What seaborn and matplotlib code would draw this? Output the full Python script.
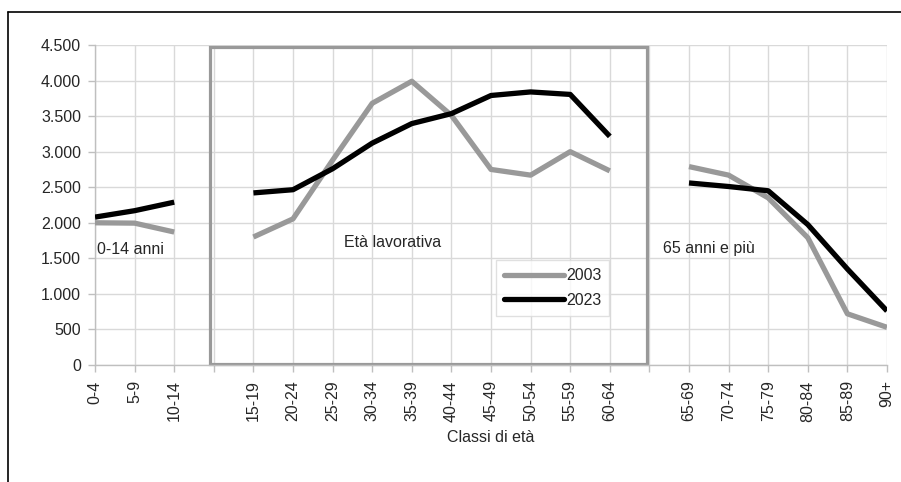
import numpy as np
import pandas as pd
import matplotlib
matplotlib.use("Agg")
import matplotlib.pyplot as plt
import matplotlib.ticker as mticker
from matplotlib.patches import Rectangle
from matplotlib.lines import Line2D
import seaborn as sns

# classi di eta' ("" = spazio vuoto tra i gruppi)
classi = ["0-4", "5-9", "10-14", "",
          "15-19", "20-24", "25-29", "30-34", "35-39",
          "40-44", "45-49", "50-54", "55-59", "60-64", "",
          "65-69", "70-74", "75-79", "80-84", "85-89", "90+"]
gruppi = ["0-14 anni"] * 3 + [None] + ["Età lavorativa"] * 10 + [None] + ["65 anni e più"] * 6

valori_2003 = [2000, 1995, 1870, None,
               1800, 2055, 2880, 3680, 3990, 3510, 2750, 2670, 3000, 2730, None,
               2790, 2670, 2350, 1790, 720, 530]
valori_2023 = [2080, 2170, 2290, None,
               2420, 2465, 2760, 3120, 3395, 3535, 3790, 3840, 3805, 3215, None,
               2560, 2510, 2450, 1975, 1350, 760]

anni = ["2003", "2023"]
colori = {"2003": "#999999", "2023": "#000000"}

sns.set_theme(style="white")
plt.rcParams["font.family"] = ["Liberation Sans", "DejaVu Sans"]
fs = 11.5

righe = []
for anno, valori in zip(anni, [valori_2003, valori_2023]):
    for pos, (g, v) in enumerate(zip(gruppi, valori)):
        if v is not None:
            righe.append({"pos": pos, "valore": v, "anno": anno, "gruppo": g})
df = pd.DataFrame(righe)

fig = plt.figure(figsize=(9.01, 4.82), dpi=100)
ax = fig.add_axes([95 / 901, 1 - 365 / 482, 792 / 901, 320 / 482])

sns.lineplot(data=df, x="pos", y="valore", hue="anno", units="gruppo",
             estimator=None, palette=colori, linewidth=3.8, ax=ax,
             solid_capstyle="butt", zorder=3)

ax.set_xlim(0, len(classi) - 1)
ax.set_ylim(0, 4500)
ax.set_xticks(range(len(classi)))
ax.set_xticklabels(classi, rotation=90, fontsize=fs)
ax.set_yticks(np.arange(0, 4501, 500))
ax.yaxis.set_major_formatter(mticker.FuncFormatter(lambda v, p: f"{int(v):,}".replace(",", ".")))
ax.tick_params(axis="y", labelsize=fs, length=5, color="#bfbfbf", width=1, pad=5, left=True)
ax.tick_params(axis="x", length=5, color="#bfbfbf", width=1, pad=6, bottom=True)
ax.grid(True, color="#d9d9d9", linewidth=1)
ax.set_axisbelow(True)
for s in ["top", "right"]:
    ax.spines[s].set_visible(False)
for s in ["left", "bottom"]:
    ax.spines[s].set_color("#bfbfbf")
    ax.spines[s].set_linewidth(1)

ax.set_xlabel("Classi di età", fontsize=fs, labelpad=6)
ax.set_ylabel("")

# riquadro eta' lavorativa
ax.add_patch(Rectangle((2.9, 15), 11.03, 4450, fill=False, edgecolor="#999999",
                       linewidth=2.3, zorder=2, clip_on=False))

ax.text(0.05, 1620, "0-14 anni", fontsize=fs, va="center", ha="left")
ax.text(6.3, 1720, "Età lavorativa", fontsize=fs, va="center", ha="left")
ax.text(14.35, 1640, "65 anni e più", fontsize=fs, va="center", ha="left")

leg = ax.legend(loc="lower left", bbox_to_anchor=(0.506, 0.153), fontsize=fs,
                frameon=True, fancybox=False, edgecolor="#d9d9d9",
                handlelength=3.8, handletextpad=0.1, borderpad=0.5,
                labelspacing=0.6, borderaxespad=0)
leg.get_frame().set_linewidth(1)
for h in leg.get_lines():
    h.set_linewidth(3.8)
    h.set_solid_capstyle("round")

# cornice della figura
fig.add_artist(Line2D([8 / 901, 1], [1 - 12 / 482, 1 - 12 / 482], color="black", linewidth=1.2))
fig.add_artist(Line2D([8 / 901, 8 / 901], [0, 1 - 12 / 482], color="black", linewidth=1.2))

fig.savefig("out.png", dpi=100)
